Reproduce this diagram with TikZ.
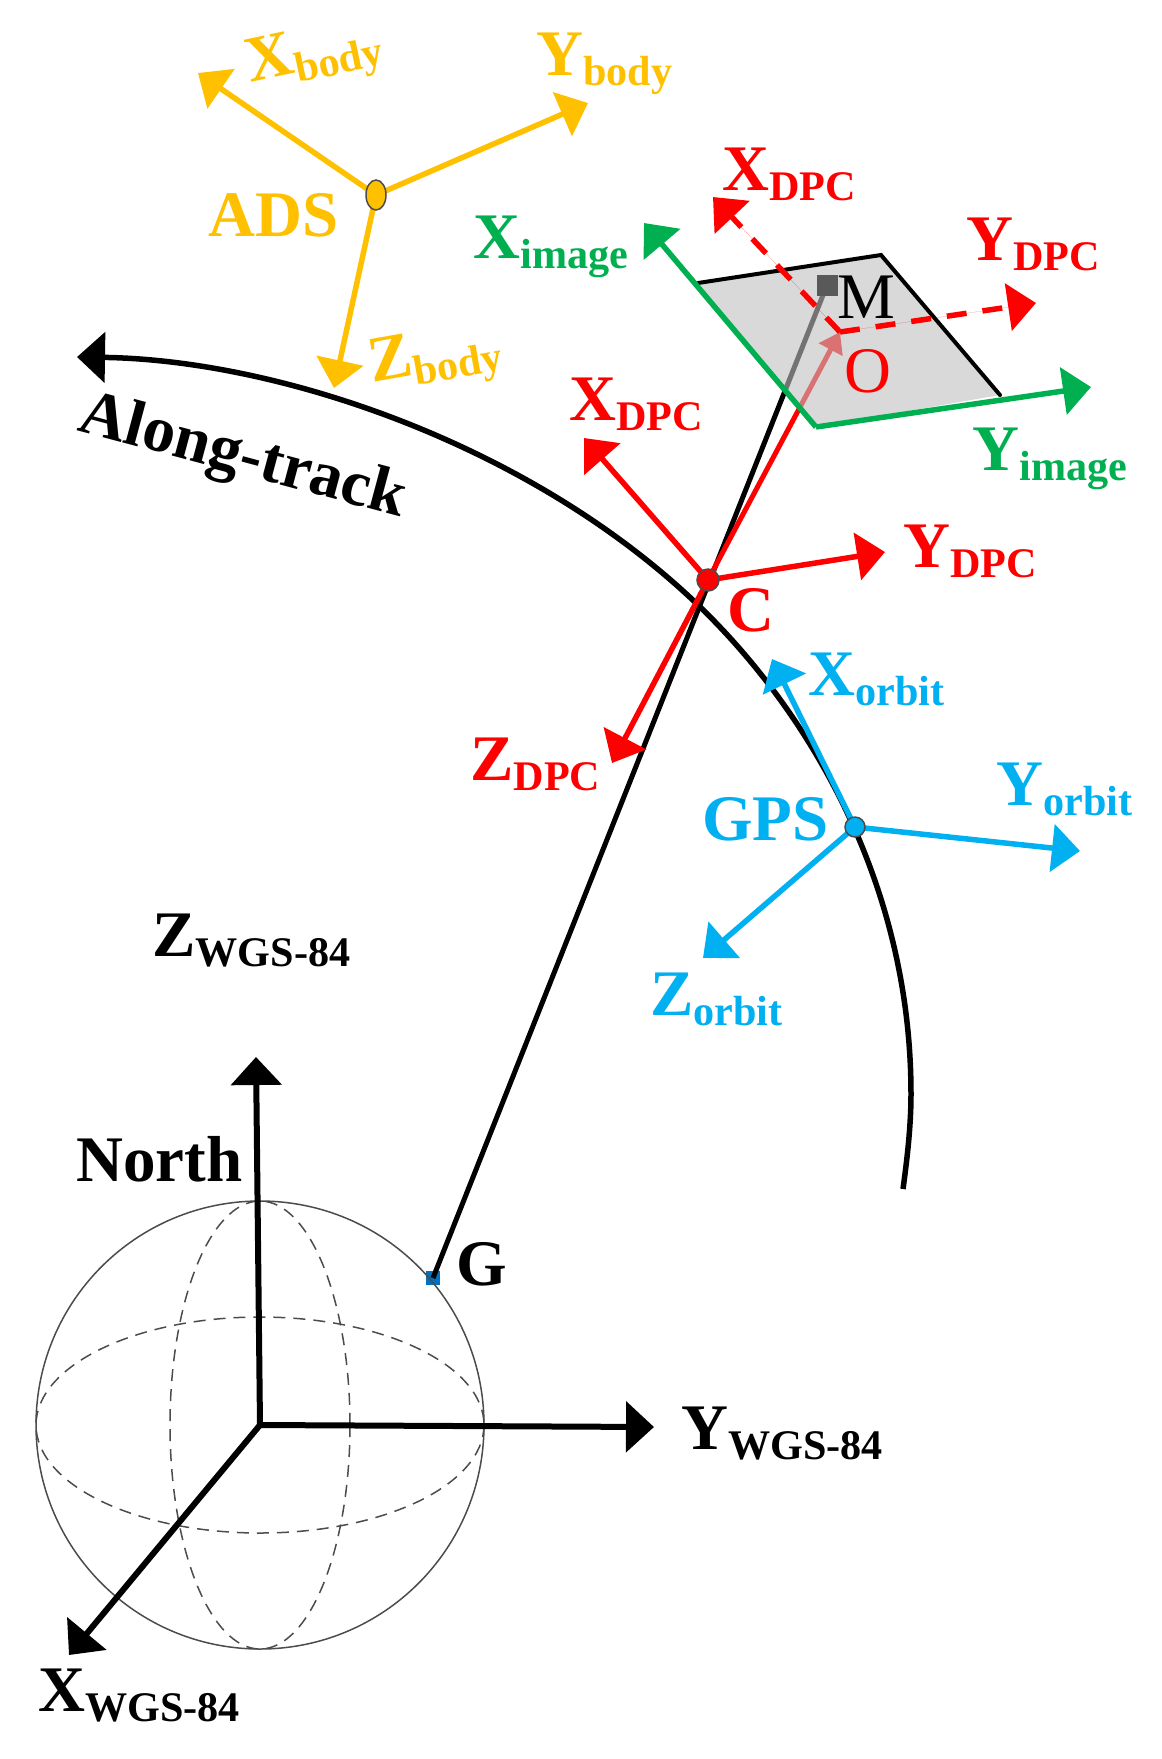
\documentclass[tikz,border=0pt]{standalone}
\usepackage{fontspec}
\setmainfont{Liberation Serif}
\usepackage{xcolor}
\usetikzlibrary{arrows.meta,shapes.geometric}
\definecolor{BodyOrange}{RGB}{255,192,0}
\definecolor{ImageGreen}{RGB}{0,176,80}
\definecolor{OrbitBlue}{RGB}{0,176,240}
\definecolor{DpcRed}{RGB}{255,0,0}
\definecolor{PlaneGray}{RGB}{192,192,192}
\definecolor{GroundBlue}{RGB}{0,112,192}
\newcommand{\sublab}[1]{\raisebox{-0.2cm}{\fontsize{24}{26}\selectfont #1}}

\begin{document}
\begin{tikzpicture}[
 x=0.02cm, y=-0.02cm,
 lab/.style={inner sep=0pt, anchor=base west, font=\bfseries\fontsize{37}{40}\selectfont},
 plainlab/.style={inner sep=0pt, anchor=base west, font=\fontsize{37}{40}\selectfont},
 arr/.style={line width=0.11cm, -{Triangle[length=0.56cm,width=0.94cm]}},
 small arr/.style={line width=0.1cm, -{Triangle[length=0.4cm,width=0.52cm]}},
 dash arr/.style={arr, dash pattern=on 0.4cm off 0.32cm},
 axis/.style={line width=0.12cm, -{Triangle[length=0.56cm,width=1.0cm]}},
 globe/.style={line width=0.03cm, draw=black!70},
 globe dash/.style={globe, dash pattern=on 0.24cm off 0.16cm},
 dot/.style={draw=black!70, line width=0.03cm, circle, inner sep=0pt, minimum size=0.4cm}
]
\useasboundingbox (0,0) rectangle (1161,1759);

% coordinates
\coordinate (ads) at (376,195);
\coordinate (camera) at (708,580);
\coordinate (gps) at (855,827);
\coordinate (centre) at (260,1425);
\coordinate (O) at (840,332);
\coordinate (corner) at (816,427);
\coordinate (planeTL) at (698,283);
\coordinate (planeTR) at (881,255);
\coordinate (planeBR) at (1000,395);
\coordinate (trackend) at (903,1189);
\coordinate (trackright) at (911,1094);
\coordinate (trackcross) at (696,603);
\coordinate (tracktip) at (77,357);
\node[fill=GroundBlue, inner sep=0pt, minimum size=0.28cm] (G) at (433,1278) {};

% globe
\draw[globe] (centre) circle[radius=224];
\draw[globe dash] (centre) circle[x radius=224, y radius=108];
\draw[globe dash] (centre) circle[x radius=90, y radius=224];

% orbit
\draw[line width=0.11cm, -{Triangle[length=0.56cm,width=1.0cm]}] (trackend) .. controls (907,1160) and (911,1126) .. (trackright) .. controls (911,880) and (806,708) .. (trackcross) .. controls (530,445) and (280,360) .. (tracktip);

% line of sight, the plane lies over it
\coordinate (M) at (827,285);
\draw[line width=0.1cm] (G.center) -- (M);
\draw[small arr, draw=DpcRed, fill=DpcRed] (camera) -- (O);
\fill[PlaneGray, fill opacity=0.6] (planeTL) -- (planeTR) -- (planeBR) -- (corner) -- cycle;
\draw[line width=0.08cm, line cap=round] (planeTL) -- (planeTR) -- (planeBR);
\node[fill=black!65, inner sep=0pt, minimum size=0.42cm] (Mbox) at (M) {};
\node[plainlab] (Mlab) at (837,318) {M};
\node[plainlab, text=DpcRed] (Olab) at (844,392) {O};

% image frame
\coordinate (ximage) at (644,223);
\coordinate (yimage) at (1091,387);
\draw[arr, draw=ImageGreen, fill=ImageGreen] (corner) -- (ximage);
\draw[arr, draw=ImageGreen, fill=ImageGreen] (corner) -- (yimage);
\node[lab, text=ImageGreen] (ximagelab) at (473,258) {X\sublab{image}};
\node[lab, text=ImageGreen] (yimagelab) at (972,470) {Y\sublab{image}};

% DPC frame on the plane
\coordinate (xdpctop) at (713,197);
\coordinate (ydpctop) at (1036,303);
\draw[dash arr, draw=DpcRed, fill=DpcRed] (O) -- (xdpctop);
\draw[dash arr, draw=DpcRed, fill=DpcRed] (O) -- (ydpctop);
\node[lab, text=DpcRed] (xdpctoplab) at (722,190) {X\sublab{DPC}};
\node[lab, text=DpcRed] (ydpctoplab) at (966,260) {Y\sublab{DPC}};

% DPC frame at the camera
\coordinate (xdpc) at (584,438);
\coordinate (ydpc) at (885,552);
\coordinate (zdpc) at (612,763);
\draw[arr, draw=DpcRed, fill=DpcRed] (camera) -- (xdpc);
\draw[arr, draw=DpcRed, fill=DpcRed] (camera) -- (ydpc);
\draw[arr, draw=DpcRed, fill=DpcRed] (camera) -- (zdpc);
\node[dot, fill=DpcRed, minimum size=0.44cm] (C) at (camera) {};
\node[lab, text=DpcRed] (xdpclab) at (569,420) {X\sublab{DPC}};
\node[lab, text=DpcRed] (ydpclab) at (903,567) {Y\sublab{DPC}};
\node[lab, text=DpcRed] (zdpclab) at (470,780) {Z\sublab{DPC}};
\node[lab, text=DpcRed] (Clab) at (727,631) {C};

% orbit frame
\coordinate (xorbit) at (772,659);
\coordinate (yorbit) at (1080,851);
\coordinate (zorbit) at (703,958);
\draw[arr, draw=OrbitBlue, fill=OrbitBlue] (gps) -- (xorbit);
\draw[arr, draw=OrbitBlue, fill=OrbitBlue] (gps) -- (yorbit);
\draw[arr, draw=OrbitBlue, fill=OrbitBlue] (gps) -- (zorbit);
\node[dot, fill=OrbitBlue] (GPSdot) at (gps) {};
\node[lab, text=OrbitBlue] (gpslab) at (702,840) {GPS};
\node[lab, text=OrbitBlue] (xorbitlab) at (808,695) {X\sublab{orbit}};
\node[lab, text=OrbitBlue] (yorbitlab) at (996,805) {Y\sublab{orbit}};
\node[lab, text=OrbitBlue] (zorbitlab) at (650,1015) {Z\sublab{orbit}};

% body frame
\coordinate (xbody) at (198,73);
\coordinate (ybody) at (588,103);
\coordinate (zbody) at (334,388);
\draw[arr, draw=BodyOrange, fill=BodyOrange] (ads) -- (xbody);
\draw[arr, draw=BodyOrange, fill=BodyOrange] (ads) -- (ybody);
\draw[arr, draw=BodyOrange, fill=BodyOrange] (ads) -- (zbody);
\node[draw=black!70, line width=0.03cm, fill=BodyOrange, ellipse, inner sep=0pt, minimum width=0.4cm, minimum height=0.6cm] (ADSdot) at (ads) {};
\node[lab, text=BodyOrange] (adslab) at (208,236) {ADS};
\node[lab, text=BodyOrange, rotate=12] (xbodylab) at (250,83) {X\sublab{body}};
\node[lab, text=BodyOrange] (ybodylab) at (536,75) {Y\sublab{body}};
\node[lab, text=BodyOrange, rotate=10] (zbodylab) at (372,383) {Z\sublab{body}};

% WGS-84 frame
\coordinate (xwgs) at (69,1655);
\coordinate (ywgs) at (654,1427);
\coordinate (zwgs) at (256,1057);
\draw[axis] (centre) -- (xwgs);
\draw[axis] (centre) -- (ywgs);
\draw[axis] (centre) -- (zwgs);
\node[lab] (xwgslab) at (38,1711) {X\sublab{WGS-84}};
\node[lab] (ywgslab) at (681,1449) {Y\sublab{WGS-84}};
\node[lab] (zwgslab) at (152,956) {Z\sublab{WGS-84}};
\node[lab] (northlab) at (76,1181) {North};
\node[lab] (Glab) at (456,1285) {G};
\node[lab, rotate=-15] (tracklab) at (76,430) {Along-track};
\end{tikzpicture}
\end{document}
